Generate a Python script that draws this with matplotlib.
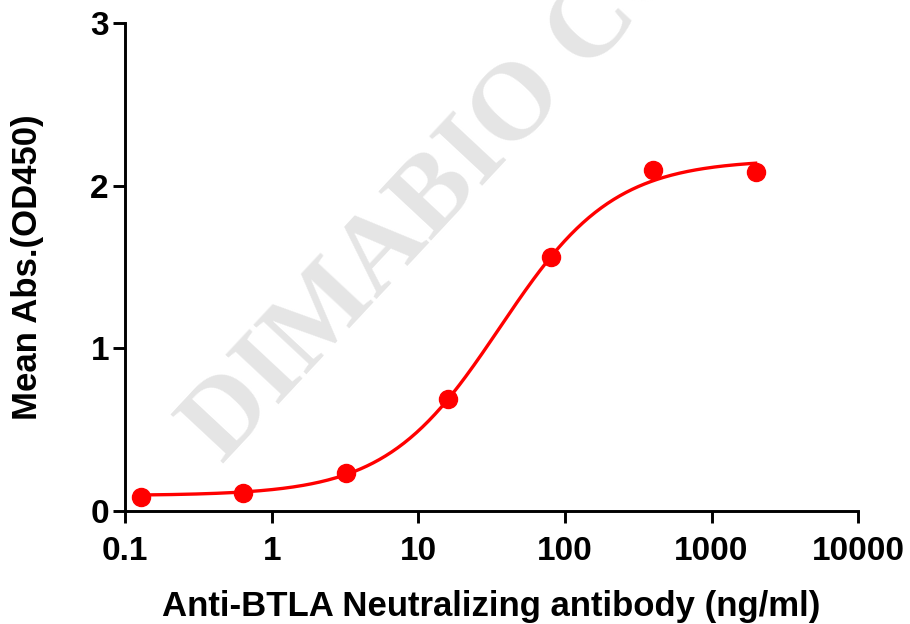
import numpy as np
import matplotlib
matplotlib.use("Agg")
import matplotlib.pyplot as plt

# antibody concentration (ng/ml) and mean OD450
conc = [0.128, 0.64, 3.2, 16, 80, 400, 2000]
od450 = [0.088, 0.112, 0.235, 0.686, 1.558, 2.095, 2.082]

# 4PL fit parameters
fit_bottom = 0.095
fit_top = 2.16
fit_ec50 = 36.0
fit_hill = 1.12

xticks = [0.1, 1, 10, 100, 1000, 10000]
xticklabels = ["0.1", "1", "10", "100", "1000", "10000"]
yticks = [0, 1, 2, 3]


def four_pl(x):
    return fit_bottom + (fit_top - fit_bottom) / (1 + (fit_ec50 / x) ** fit_hill)


plt.rcParams['font.family'] = ['Liberation Sans', 'DejaVu Sans']
plt.rcParams['font.weight'] = 'bold'

fig = plt.figure(figsize=(9.1, 6.24), dpi=100)
ax = fig.add_axes([0.1374, 0.181, 0.8056, 0.7825])
ax.patch.set_alpha(0)

# watermark
fig.text(0.245, 0.255, "DIMABIO CO.", rotation=47, rotation_mode='anchor',
         ha='left', va='baseline', fontsize=79, family='Liberation Serif',
         weight='bold', color='#e5e5e5', zorder=-1)

xs = np.logspace(np.log10(conc[0]), np.log10(conc[-1]), 300)
ax.plot(xs, four_pl(xs), color='#ff0000', lw=2.4, zorder=3, clip_on=False)
ax.plot(conc, od450, 'o', color='#ff0000', ms=13, zorder=4, clip_on=False)

ax.set_xscale('log')
ax.set_xlim(0.1, 10000)
ax.set_ylim(0, 3)
ax.set_xticks(xticks)
ax.set_xticklabels(xticklabels)
ax.minorticks_off()
ax.set_yticks(yticks)

for s in ['top', 'right']:
    ax.spines[s].set_visible(False)
for s in ['left', 'bottom']:
    ax.spines[s].set_linewidth(2.1)

ax.tick_params(axis='both', width=2.1, length=8.6, labelsize=24)
ax.tick_params(axis='x', pad=9)
ax.tick_params(axis='y', pad=3)

ax.set_xlabel("Anti-BTLA Neutralizing antibody (ng/ml)", fontsize=25,
              fontweight='bold', labelpad=17)
ax.set_ylabel("Mean Abs.(OD450)", fontsize=25, fontweight='bold', labelpad=33)

fig.savefig("out.png", dpi=100)
